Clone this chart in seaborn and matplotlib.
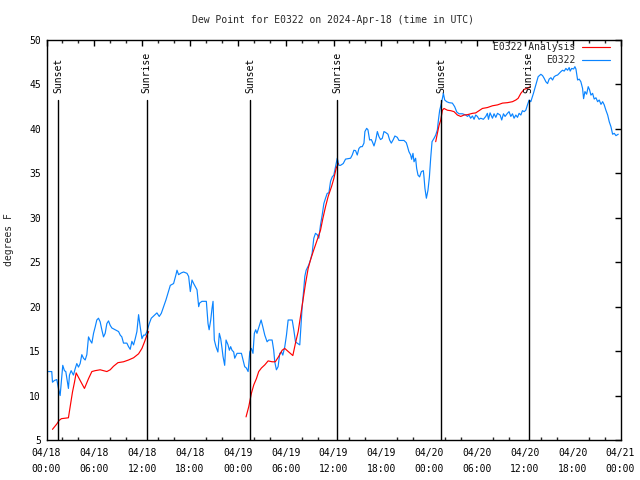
import matplotlib
matplotlib.use("Agg")
import matplotlib.pyplot as plt
import matplotlib.dates as mdates
import matplotlib.transforms as mtransforms
from matplotlib.lines import Line2D
import numpy as np
import pandas as pd
import seaborn as sns

# ---------------- data ----------------
start = pd.Timestamp("2024-04-18 00:00")
title = "Dew Point for E0322 on 2024-Apr-18 (time in UTC)"
ylabel = "degrees F"
obs_label = "E0322"
ana_label = "E0322 Analysis"

# observed dew point (hours after start, degrees F)
obs_hours = [
    0.24, 0.66, 0.75, 1.00, 1.29, 1.50, 1.71, 1.83, 2.04, 2.25, 2.42, 2.63, 2.75, 2.88, 3.09, 3.38,
    3.59, 3.80, 4.01, 4.22, 4.43, 4.64, 4.85, 5.06, 5.27, 5.48, 5.69, 5.90, 6.10, 6.31, 6.52, 6.73,
    6.94, 7.15, 7.36, 7.57, 7.78, 7.99, 8.20, 8.62, 9.04, 9.25, 9.45, 9.66, 10.08, 10.29, 10.50,
    10.71, 10.92, 11.13, 11.34, 11.55, 11.76, 11.97, 12.18, 12.39, 12.60,
    12.89, 13.14, 13.43, 13.85, 14.14, 14.40, 14.69, 14.98, 15.23, 15.53, 15.94, 16.24, 16.37,
    16.57, 16.91, 17.20, 17.62, 17.83, 18.04, 18.25, 18.46, 18.67, 18.88, 19.09, 19.20, 19.50,
    20.05, 20.26, 20.40, 20.60, 20.76, 20.89, 21.05, 21.26, 21.50, 21.68, 21.85, 22.02, 22.14,
    22.35, 22.52, 22.77, 22.94, 23.10, 23.27, 23.48, 23.61, 23.90, 24.45, 24.66, 24.86, 25.07, 25.29,
    25.50, 25.70, 25.90, 26.07, 26.24, 26.40, 26.66, 26.92, 27.13, 27.38, 27.67, 27.88, 28.30,
    28.50, 28.63, 28.84, 29.05, 29.26, 29.47, 29.64, 29.89, 30.10, 30.31, 30.82, 31.02, 31.23,
    31.44, 31.77, 31.94, 32.07, 32.28, 32.40, 32.57, 32.90, 33.11, 33.32, 33.53, 33.74, 33.96,
    34.16, 34.37, 34.58, 34.79, 35.00, 35.21, 35.42, 35.63, 35.84, 36.04, 36.26, 36.47, 36.67,
    36.88, 37.22, 37.51, 38.14, 38.35, 38.56, 38.77, 38.98, 39.19, 39.40, 39.61, 39.82, 39.94,
    40.16, 40.32, 40.53, 40.74, 40.87, 41.08, 41.30, 41.50, 41.70, 41.90, 42.12, 42.33, 42.54,
    42.83, 43.04, 43.25, 43.50, 43.70, 44.00, 44.21, 44.84, 45.13, 45.26, 45.46, 45.68, 45.80,
    45.97, 46.10, 46.30, 46.43, 46.60, 46.80, 47.02, 47.27, 47.35, 47.47, 47.65, 47.85, 48.03,
    48.19, 48.36, 48.61, 48.82, 49.03, 49.16, 49.32,
    49.57, 49.78, 49.95, 50.20, 50.49, 50.91, 51.20, 51.46, 51.75, 52.17, 52.59, 52.80, 53.00,
    53.20, 53.43, 53.63, 53.84, 54.05, 54.26, 54.47, 54.80, 55.10, 55.30, 55.44, 55.64, 55.94,
    56.14, 56.36, 56.57, 56.90, 57.10, 57.32, 57.52, 57.82, 58.02, 58.24, 58.45, 58.65, 58.87,
    59.08, 59.28, 59.50, 59.70, 59.91, 60.12, 60.33, 60.54,
    60.75, 61.08, 61.38, 61.67, 62.01, 62.22, 62.42, 62.64, 62.85, 63.05, 63.27, 63.48, 63.68,
    63.90, 64.11, 64.31, 64.52, 64.73, 64.94, 65.15, 65.36, 65.56, 65.69, 65.87, 66.12, 66.28,
    66.41, 66.62, 66.82, 67.03, 67.24, 67.37, 67.54, 67.75, 67.95, 68.12, 68.29, 68.50, 68.70,
    68.92, 69.13, 69.33, 69.55, 69.76, 69.96, 70.17, 70.39, 70.59, 70.80, 71.01, 71.22, 71.43, 71.72,
]
obs_values = [
    12.7, 12.7, 11.5, 11.7, 11.8, 10.8, 10.0, 11.2, 13.4, 12.8, 12.7, 11.5, 10.8, 12.3, 12.8, 12.3,
    13.0, 13.6, 13.2, 13.6, 14.6, 14.2, 14.0, 14.6, 16.6, 16.2, 15.9, 17.0, 17.7, 18.5, 18.7, 18.3,
    17.4, 16.6, 17.0, 18.1, 18.4, 17.9, 17.6, 17.4, 17.2, 16.8, 16.6, 15.9, 15.9, 15.5, 15.2,
    16.1, 15.7, 16.4, 17.2, 19.1, 17.7, 16.4, 16.8, 16.8, 17.2,
    18.1, 18.7, 18.95, 19.3, 18.9, 19.25, 20.0, 20.75, 21.5, 22.4, 22.6, 23.6, 24.1,
    23.6, 23.8, 23.9, 23.75, 23.4, 21.7, 23.0, 22.6, 22.25, 21.9, 20.0, 20.4, 20.6,
    20.6, 18.1, 17.4, 18.5, 19.8, 20.6, 16.25, 15.5, 14.9, 17.0, 16.4, 15.3, 14.4,
    13.4, 16.25, 15.7, 15.1, 15.5, 15.1, 14.9, 14.2, 14.75, 14.75, 14.0, 13.25, 13.1, 12.7,
    14.9, 15.3, 14.75, 17.0, 17.4, 17.0, 17.75, 18.5, 17.75, 16.8, 16.05, 16.25, 16.25,
    15.1, 13.8, 12.9, 13.25, 14.75, 14.9, 14.55, 15.5, 16.8, 18.5, 18.5, 17.4, 16.05,
    15.9, 15.7, 18.1, 20.0, 22.07, 23.4, 24.1, 24.7, 25.25, 26.0, 27.7, 28.25, 28.1,
    27.7, 29.2, 30.3, 31.6, 32.2, 32.75, 32.8, 34.1, 34.6, 34.8, 35.75, 36.7, 35.9,
    35.9, 36.1, 36.6, 36.7, 37.06, 37.6, 37.55, 37.06, 37.8, 38.0, 38.0, 38.4, 39.7,
    40.06, 39.9, 38.75, 38.8, 38.56, 38.08, 38.75, 39.7, 39.13, 38.8, 38.94, 39.7, 39.6,
    39.4, 38.75, 38.4, 38.8, 39.2, 39.05, 38.7, 38.7, 38.45, 38.08, 37.44, 37.06, 36.58,
    37.25, 36.3, 36.7, 35.56, 34.8, 34.6, 35.19, 35.3, 34.6, 33.3, 32.2, 33.1, 34.6,
    36.7, 38.56, 38.94, 39.3, 39.9, 41.0, 42.1,
    43.0, 44.0, 43.25, 43.06, 42.95, 42.9, 42.5, 41.9, 41.7, 41.7, 41.56, 41.4, 41.56,
    41.2, 41.45, 41.08, 41.56, 41.4, 41.08, 41.2, 41.08, 41.4, 41.75, 41.08, 41.8, 41.2,
    41.7, 41.3, 41.75, 41.56, 41.0, 41.7, 41.4, 41.75, 41.94, 41.4, 41.7, 41.2, 41.56,
    41.3, 41.75, 41.56, 42.05, 41.94, 42.1, 42.7, 43.25,
    43.06, 44.0, 44.94, 45.87, 46.14, 46.0, 45.7, 45.3, 45.1, 45.6, 45.76, 45.5, 45.87,
    46.0, 46.06, 46.25, 46.44, 46.6, 46.5, 46.8, 46.6, 46.9, 46.5, 46.8, 46.74, 47.0,
    46.74, 45.5, 45.6, 45.3, 44.56, 43.4, 44.2, 43.9, 44.75, 44.4, 43.8, 44.0, 43.36,
    43.5, 43.06, 43.25, 42.76, 43.06, 42.7, 42.1, 41.56, 40.8, 40.25, 39.4, 39.5, 39.24, 39.4,
]

# analysis dew point, three separate runs (hours after start, degrees F)
ana1_hours = [0.75, 1.29, 1.58, 1.87, 2.75, 2.96, 3.26, 3.51, 3.72, 4.22, 4.76, 5.27, 5.69, 6.10,
              6.73, 7.57, 7.99, 8.41, 8.96, 9.66, 10.29, 10.92, 11.55, 11.97, 12.30, 12.60, 12.81]
ana1_values = [6.2, 6.8, 7.2, 7.4, 7.5, 8.7, 10.4, 11.5, 12.55, 11.7, 10.8, 11.9, 12.7, 12.8,
               12.9, 12.7, 12.9, 13.3, 13.7, 13.8, 14.0, 14.25, 14.7, 15.3, 16.05, 16.8, 17.2]
ana2_hours = [25.03, 25.37, 25.70, 26.00, 26.33, 26.62, 26.96, 27.38, 27.80, 28.30, 28.70, 29.13,
              29.56, 29.89, 30.39, 30.90, 31.23, 31.57, 31.86, 32.15, 32.49, 32.82, 33.11, 33.53,
              33.95, 34.37, 34.66, 35.00, 35.33, 35.75, 36.04, 36.34, 36.60]
ana2_values = [7.6, 8.75, 10.25, 11.2, 11.9, 12.7, 13.1, 13.45, 13.9, 13.8, 13.8, 14.4,
               15.1, 15.3, 14.9, 14.5, 15.9, 17.2, 18.9, 20.6, 22.6, 24.3, 25.25, 26.4,
               27.5, 28.6, 29.9, 31.25, 32.4, 33.5, 34.4, 35.6, 36.1]
ana3_hours = [48.82, 49.03, 49.24, 49.45, 49.66, 49.86, 50.29, 50.70, 51.12, 51.54, 51.96, 52.37,
              52.80, 53.43, 53.84, 54.26, 54.68, 55.30, 55.94, 56.57, 57.20, 57.82, 58.45, 58.87,
              59.16, 59.50, 59.91, 60.33, 60.66]
ana3_values = [38.56, 39.5, 40.4, 41.0, 42.1, 42.3, 42.1, 42.05, 41.94, 41.56, 41.4, 41.56,
               41.6, 41.75, 41.8, 42.05, 42.3, 42.4, 42.6, 42.7, 42.9, 42.95, 43.06, 43.25,
               43.44, 44.0, 44.45, 44.56, 44.75]

sun_labels = ["Sunset", "Sunrise", "Sunset", "Sunrise", "Sunset", "Sunrise"]
sun_hours = [1.50, 12.55, 25.55, 36.46, 49.50, 60.50]

yticks = [5, 10, 15, 20, 25, 30, 35, 40, 45, 50]

# ---------------- build table ----------------
def frame(hours, values, series, seg):
    return pd.DataFrame({
        "time": start + pd.to_timedelta(hours, unit="h"),
        "dewpoint": values,
        "series": series,
        "segment": seg,
    })

df = pd.concat([
    frame(obs_hours, obs_values, obs_label, 0),
    frame(ana1_hours, ana1_values, ana_label, 1),
    frame(ana2_hours, ana2_values, ana_label, 2),
    frame(ana3_hours, ana3_values, ana_label, 3),
], ignore_index=True)

# ---------------- plot ----------------
sns.set_theme(style="white")
plt.rcParams["font.family"] = ["DejaVu Sans Mono", "DejaVu Sans"]
plt.rcParams["font.size"] = 7

RED = "#ff0000"
BLUE = "#0a84ff"

fig = plt.figure(figsize=(6.4, 4.8), dpi=100)
ax = fig.add_axes([46.5 / 640, 40 / 480, 574 / 640, 400 / 480])

sns.lineplot(data=df, x="time", y="dewpoint", hue="series", units="segment",
             estimator=None, sort=False, hue_order=[obs_label, ana_label],
             palette={obs_label: BLUE, ana_label: RED}, linewidth=0.85,
             legend=False, ax=ax)

# sunrise / sunset markers
trans = mtransforms.blended_transform_factory(ax.transData, ax.transAxes)
for lab, h in zip(sun_labels, sun_hours):
    t = mdates.date2num(start + pd.Timedelta(hours=h))
    ax.plot([t, t], [0, 0.85], transform=trans, color="black", lw=1.0)
    ax.text(t, 0.868, lab, transform=trans, rotation=90, ha="center", va="bottom",
            fontsize=7, color="black")

ax.set_xlim(start, start + pd.Timedelta(hours=72))
ax.set_ylim(5, 50)
ax.set_yticks(yticks)
ax.xaxis.set_major_locator(mdates.HourLocator(byhour=[0, 6, 12, 18]))
ax.xaxis.set_minor_locator(mdates.HourLocator(byhour=range(0, 24, 2)))
ax.xaxis.set_major_formatter(mdates.DateFormatter("%m/%d\n%H:%M"))

ax.tick_params(axis="both", which="major", direction="in", length=4, width=1,
               top=True, right=True, labelsize=7, pad=4, colors="black")
ax.tick_params(axis="x", which="major", pad=5.5)
ax.tick_params(axis="x", which="minor", direction="in", length=2.5, width=1,
               top=True, bottom=True)
for lbl in ax.get_xticklabels():
    lbl.set_linespacing(1.75)

for sp in ax.spines.values():
    sp.set_color("black")
    sp.set_linewidth(1.0)

ax.set_xlabel("")
ax.set_ylabel(ylabel, fontsize=7)
ax.yaxis.set_label_coords(-0.056, 0.5)
ax.set_title(title, fontsize=7, pad=12)

handles = [Line2D([], [], color=RED, lw=0.85), Line2D([], [], color=BLUE, lw=0.85)]
ax.legend(handles, [ana_label, obs_label], loc="upper right",
          bbox_to_anchor=(0.982, 0.995), frameon=False, markerfirst=False,
          handlelength=2.9, handletextpad=0.7, labelspacing=0.35,
          borderpad=0, borderaxespad=0, fontsize=7)

fig.savefig("out.png", dpi=100)
